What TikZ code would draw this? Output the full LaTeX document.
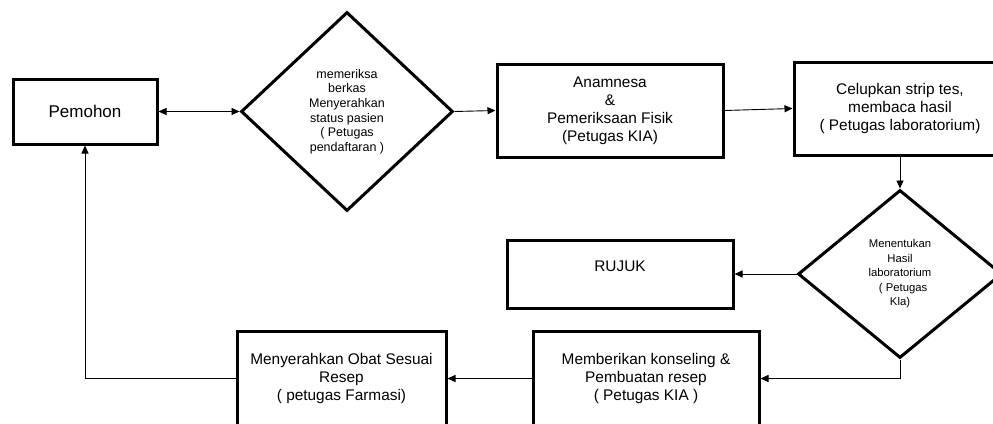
\documentclass[tikz,border=0pt]{standalone}
\usepackage{fontspec}
\setmainfont{Liberation Sans}
\usetikzlibrary{shapes.geometric,arrows.meta}
\tikzset{
  box/.style={draw=black, line width=3pt, rectangle, inner sep=0pt, align=center,
    font=\fontsize{15.4}{18}\selectfont},
  dia/.style={draw=black, line width=3pt, diamond, inner sep=0pt, align=center},
  conn/.style={line width=0.9pt, -{Triangle[length=8pt,width=7pt]}},
  conn2/.style={line width=0.9pt, {Triangle[length=8pt,width=7pt]}-{Triangle[length=8pt,width=7pt]}},
  plain/.style={line width=0.9pt}
}
\begin{document}
\begin{tikzpicture}[x=1pt,y=-1pt]
\useasboundingbox (0,0) rectangle (993,423);
\clip (0,0) rectangle (993,423);
\fill[white] (0,0) rectangle (993,423);

\node[box, minimum width=144pt, minimum height=65pt, font=\fontsize{17}{20}\selectfont] (pem) at (85,111.5) {Pemohon};
\node[dia, minimum width=212pt, minimum height=199pt, font=\fontsize{12.5}{14.6}\selectfont] (d1) at (347,111.5)
  {memeriksa\\berkas\\Menyerahkan\\status pasien\\( Petugas\\pendaftaran )};
\node[box, minimum width=226pt, minimum height=93pt] (anam) at (610,110.5)
  {Anamnesa\\\&\\Pemeriksaan Fisik\\(Petugas KIA)};
\node[box, minimum width=212pt, minimum height=93pt] (cel) at (900,108.5)
  {Celupkan strip tes,\\membaca hasil\\( Petugas laboratorium)};
\node[dia, minimum width=204pt, minimum height=168pt, font=\fontsize{11.3}{14.5}\selectfont] (d2) at (900,274)
  {Menentukan\\Hasil\\laboratorium\\\ \ ( Petugas\\Kla)};
\node[box, minimum width=226pt, minimum height=68pt] (rujuk) at (620,274)
  {\raisebox{8pt}[\height][\depth]{RUJUK}};
\node[box, minimum width=226pt, minimum height=95pt] (memb) at (646,378.5)
  {Memberikan konseling \&\\Pembuatan resep\\( Petugas KIA )};
\node[box, minimum width=209pt, minimum height=95pt] (meny) at (341.5,378.5)
  {Menyerahkan Obat Sesuai\\Resep\\( petugas Farmasi)};

\draw[conn2] (pem.east) -- (d1.west);
\draw[conn] (d1.east) -- (anam.west);
\draw[conn] (anam.east) -- (cel.west);
\draw[conn] (cel.south) -- (d2.north);
\draw[conn] (d2.west) -- (rujuk.east);
\draw[conn] (d2.south) |- (memb.east);
\draw[conn] (memb.west) -- (meny.east);
\draw[conn] (meny.west) -| (pem.south);
\end{tikzpicture}
\end{document}
